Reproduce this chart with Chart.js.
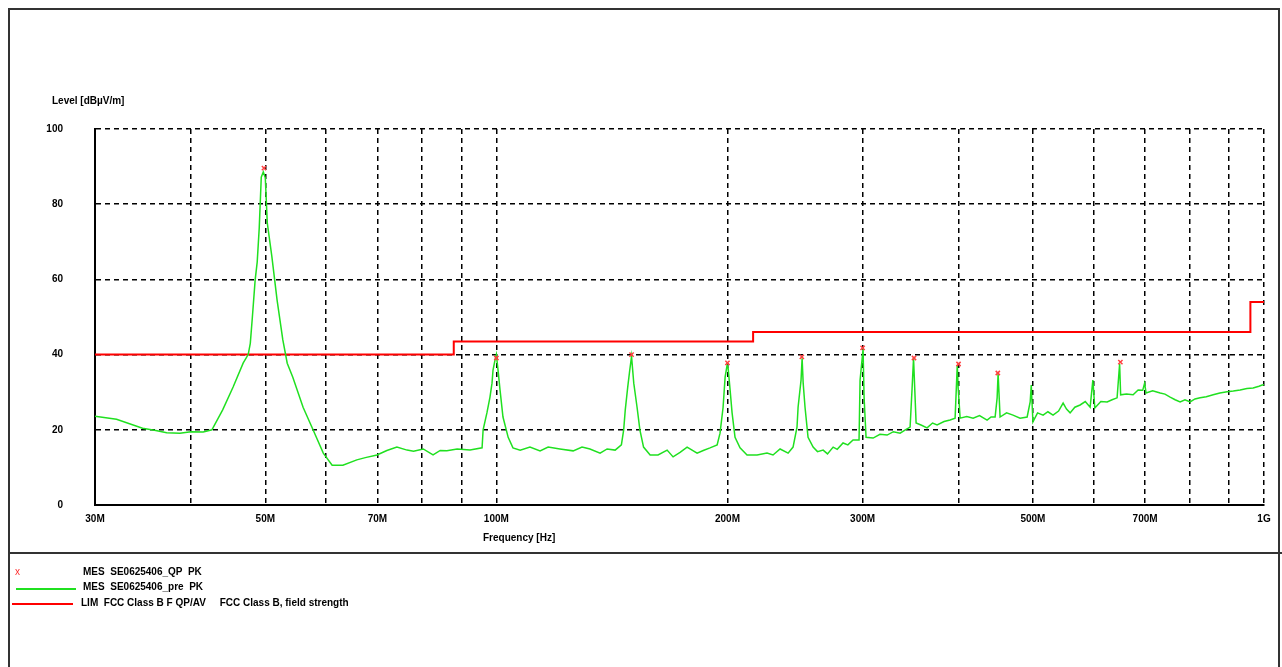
<!DOCTYPE html>
<html>
<head>
<meta charset="utf-8">
<script src="https://cdn.jsdelivr.net/npm/chart.js@4/dist/chart.umd.min.js"></script>
<style>
  body { margin: 0; background: #fff; }
  #wrap { position: relative; width: 1282px; height: 667px; overflow: hidden; }
  #wrap canvas { position: absolute; left: 0; top: 0; }
  .frame { position: absolute; left: 8px; top: 8px; width: 1272px; height: 670px; border: 2px solid #333; box-sizing: border-box; }
  .sep { position: absolute; left: 8px; top: 552px; width: 1274px; height: 2px; background: #333; }
  .txt { position: absolute; font: bold 10px "Liberation Sans", Arial, sans-serif; color: #000; white-space: pre; }
  .sw { position: absolute; height: 2px; }
</style>
</head>
<body>
<div id="wrap">
  <canvas id="emc" width="1282" height="667"></canvas>
  <div class="frame"></div>
  <div class="sep"></div>
  <div class="txt" style="left:52px; top:95px;">Level [dBµV/m]</div>
  <div class="txt" style="left:483px; top:532px;">Frequency [Hz]</div>
  <div class="txt" style="left:15px; top:566px; color:#ff3030; font-weight:normal;">x</div>
  <div class="txt" style="left:83px; top:566px;">MES  SE0625406_QP  PK</div>
  <div class="sw" style="left:16px; top:588px; width:60px; background:#20e020;"></div>
  <div class="txt" style="left:83px; top:581px;">MES  SE0625406_pre  PK</div>
  <div class="sw" style="left:12px; top:603px; width:61px; background:#ff0000;"></div>
  <div class="txt" style="left:81px; top:597px;">LIM  FCC Class B F QP/AV     FCC Class B, field strength</div>
</div>
<script>
// frequencies in MHz, levels in dBµV/m
const gridFreqs = [30, 40, 50, 60, 70, 80, 90, 100, 200, 300, 400, 500, 600, 700, 800, 900, 1000];
const freqLabels = { 30: '30M', 50: '50M', 70: '70M', 100: '100M', 200: '200M', 300: '300M', 500: '500M', 700: '700M', 1000: '1G' };

const limitFreq = [30, 88, 216, 960, 1000];
const limitLevel = [40, 43.5, 46, 54, 54];

const qpFreq = [49.8, 100, 150, 200, 250, 300, 350, 400, 450, 650];
const qpLevel = [89.6, 39.1, 40, 37.8, 39.4, 41.8, 39.1, 37.5, 35.1, 38];

const preFreq = [
  30, 32, 34.6, 36, 37.2, 38.7, 40, 41.5, 42.6, 44.0, 45.4, 46.8, 47.5, 47.8, 48.1, 48.5, 48.8, 49.1, 49.4, 49.7,
  50.0, 50.3, 51.0, 51.8, 52.7, 53.4, 54.3, 56.0, 57.7, 59.5, 61.1, 63.1, 65.8, 67.5, 69.9, 72, 74.2, 76.5, 78, 80.3,
  82.7, 84.5, 86.2, 88.9, 92.4, 95.8, 96.1, 97.2, 98.1, 98.7, 99.0, 99.6, 100.0, 100.6, 101.1, 102.0, 103.6, 105.1, 107.4, 110.6,
  114.0, 116.8, 121, 125.9, 129.3, 132.4, 136.5, 139.4, 142.8, 145.5, 146.5, 147.2, 148.3, 149.2, 150.0, 151, 152.5, 153.8, 155.5, 158.6,
  162.4, 166.9, 169.9, 173.5, 177.2, 182.6, 186, 189.8, 193.9, 195.6, 197.4, 198.6, 199.8, 200.4, 201.6, 202.8, 204.6, 207.7, 212.1, 218.6,
  225.2, 229.3, 234.2, 239.9, 243.5, 246.4, 247.2, 249.4, 250.2, 251, 252.4, 254.7, 258.6, 262, 266.5, 270, 274.6, 278, 282.9, 287,
  291.5, 296.8, 297.7, 300.4, 301.3, 303.1, 309.6, 316, 322.9, 329, 335.7, 341, 345.9, 348, 349.5, 352.2, 358, 364, 370, 375.1,
  383, 390, 395.9, 398.5, 399.5, 401.9, 410, 417.9, 426, 435.8, 441, 446.4, 449.1, 450.4, 453.1, 462, 471, 481.1, 491.4, 495.9,
  497.5, 500, 507, 515.5, 523, 531.1, 540, 547.4, 553, 559, 567, 576, 585, 593.6, 598.5, 602, 613, 624.7, 634, 643.6,
  648.5, 650.5, 662, 675.3, 685.5, 695, 699, 702, 716, 732.4, 743, 754.6, 766, 777.6, 789, 801.3, 813, 825.7, 841, 858.6,
  876, 895.3, 912, 930.9, 950, 967.8, 985, 994.6, 1000
];
const preLevel = [
  23.6, 22.8, 20.4, 19.8, 19.2, 19.1, 19.5, 19.4, 20, 25.3, 31.4, 37.8, 40, 43, 50, 59.8, 64.6, 73.7, 87.2, 88.6,
  87, 75, 66, 54.5, 43.9, 37.7, 34, 26, 20, 13.8, 10.6, 10.6, 12, 12.6, 13.3, 14.5, 15.4, 14.6, 14.3, 14.9,
  13.3, 14.5, 14.4, 14.9, 14.6, 15.2, 20, 24.5, 28.7, 32.4, 35.9, 38.6, 40, 35, 30.6, 23.4, 18, 15.2, 14.6, 15.4,
  14.4, 15.4, 14.9, 14.4, 15.4, 14.9, 13.8, 14.9, 14.6, 16, 20, 25.3, 31.4, 35.9, 39.5, 32.4, 26, 20, 15.4, 13.3,
  13.3, 14.6, 12.8, 14, 15.4, 13.8, 14.5, 15.2, 16, 19.1, 26, 34, 37.2, 36.4, 30.6, 24.5, 18, 15.2, 13.3, 13.3,
  13.8, 13.3, 14.9, 13.8, 15.4, 20.7, 26, 33.2, 39, 32.4, 26, 18, 15.4, 14.2, 14.6, 13.6, 15.4, 14.8, 16.5, 16,
  17.3, 17.3, 33.2, 41.5, 28.7, 18, 17.8, 18.8, 18.6, 19.5, 19.1, 20, 20.7, 31.1, 39, 21.8, 21.2, 20.5, 21.8, 21.3,
  22.2, 22.6, 23.1, 37.2, 31.4, 23.1, 23.5, 23.1, 23.8, 22.6, 23.4, 23.4, 28.5, 35, 23.4, 24.5, 23.9, 23.1, 23.4, 27.4,
  31.9, 22.1, 24.5, 23.9, 24.8, 23.9, 25, 27.1, 25.5, 24.5, 26, 26.6, 27.5, 26, 33.2, 25.8, 27.5, 27.4, 28, 28.5,
  37.5, 29.3, 29.5, 29.3, 30.6, 30.5, 32.4, 29.8, 30.4, 29.8, 29.5, 28.7, 28, 27.4, 28, 27.4, 28.2, 28.5, 28.8, 29.3,
  29.8, 30.1, 30.3, 30.6, 31, 31.1, 31.6, 31.9, 32
];

const yTicks = [0, 20, 40, 60, 80, 100];

const toPoints = (xs, ys) => xs.map((x, i) => ({ x: x, y: ys[i] }));

const font = { family: '"Liberation Sans", Arial, sans-serif', size: 10, weight: 'bold' };

new Chart(document.getElementById('emc'), {
  type: 'line',
  data: {
    datasets: [
      {
        label: 'QP',
        type: 'scatter',
        data: toPoints(qpFreq, qpLevel),
        pointStyle: 'crossRot',
        pointRadius: 3,
        borderColor: '#ff4040',
        borderWidth: 1.5,
        order: 0
      },
      {
        label: 'pre PK',
        data: toPoints(preFreq, preLevel),
        borderColor: '#20e020',
        borderWidth: 1.5,
        pointRadius: 0,
        tension: 0,
        order: 1
      },
      {
        label: 'Limit',
        data: toPoints(limitFreq, limitLevel),
        stepped: 'before',
        borderColor: '#ff0000',
        borderWidth: 2,
        pointRadius: 0,
        order: 2
      }
    ]
  },
  options: {
    responsive: false,
    animation: false,
    devicePixelRatio: 1,
    layout: { padding: { top: 129, right: 18, left: 0, bottom: 0 } },
    plugins: { legend: { display: false }, tooltip: { enabled: false } },
    scales: {
      x: {
        type: 'logarithmic',
        min: 30,
        max: 1000,
        afterBuildTicks: (scale) => { scale.ticks = gridFreqs.map(v => ({ value: v })); },
        afterFit: (scale) => { scale.height = 162; },
        ticks: {
          autoSkip: false,
          maxRotation: 0,
          padding: 8,
          color: '#000',
          font: font,
          callback: (v) => freqLabels[v] || ''
        },
        grid: { color: '#000', lineWidth: 1.5, drawTicks: false },
        border: { display: true, color: '#000', width: 2, dash: [5, 4] }
      },
      y: {
        min: 0,
        max: 100,
        afterBuildTicks: (scale) => { scale.ticks = yTicks.map(v => ({ value: v })); },
        afterFit: (scale) => { scale.width = 95; },
        ticks: { padding: 32, color: '#000', font: font },
        grid: { color: '#000', lineWidth: 1.5, drawTicks: false },
        border: { display: true, color: '#000', width: 2, dash: [5, 4] }
      }
    }
  }
});
</script>
</body>
</html>
